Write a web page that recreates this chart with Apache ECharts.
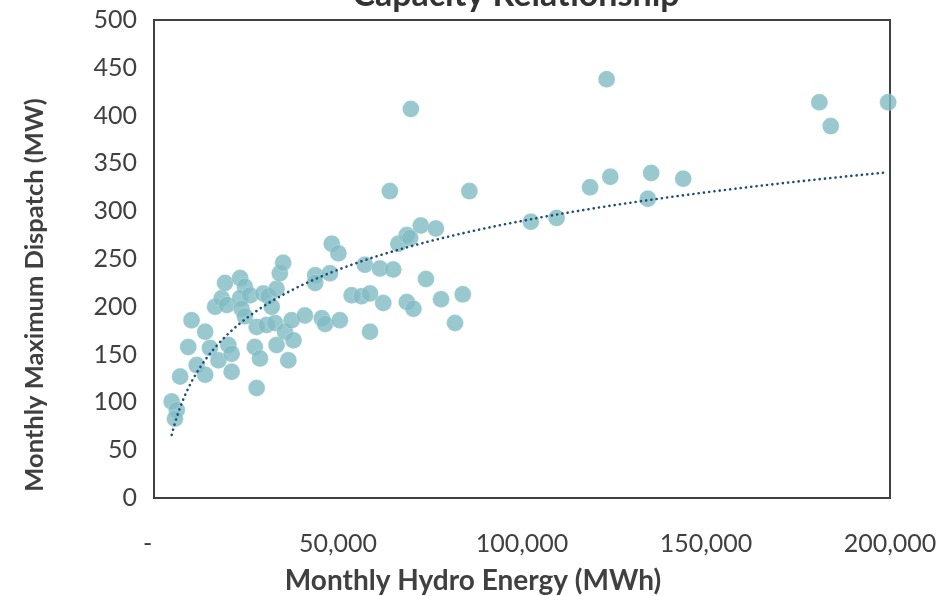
<!DOCTYPE html>
<html>
<head>
<meta charset="utf-8">
<script src="https://cdn.jsdelivr.net/npm/echarts@6/dist/echarts.min.js"></script>
<style>
  html, body { margin: 0; padding: 0; background: #ffffff; }
  #chart { width: 947px; height: 596px; }
</style>
</head>
<body>
<div id="chart"></div>
<script>
// Monthly hydro energy (MWh) and the month's maximum dispatch (MW)
const hydroEnergy = [
  4800, 6200, 5700, 7100, 9300, 10200, 11600, 13900, 13900, 15200,
  16600, 17500, 18400, 19300, 19800, 20200, 21100, 21100, 23400, 24700,
  23400, 26100, 23800, 24700, 27400, 27900, 27900, 28800, 29700, 30600,
  31100, 32000, 33300, 32900, 33300, 34200, 35100, 35600, 36500, 37400,
  37900, 41000, 43800, 43800, 45600, 46500, 47800, 48300, 50100, 50500,
  53700, 56400, 58700, 58700, 57300, 61400, 62300, 65000, 64100, 66400,
  68700, 69600, 68700, 70500, 72500, 76600, 73900, 78000, 81800, 83900,
  85700, 69800, 102400, 109400, 118500, 124000, 135100, 143800, 134200, 123000,
  180800, 183900, 199500
];
const maxDispatch = [
  101, 92, 83, 127, 158, 186, 139, 174, 129, 157,
  200, 144, 209, 225, 202, 160, 151, 132, 230, 221,
  209, 212, 198, 190, 158, 179, 115, 146, 214, 181,
  211, 200, 219, 183, 160, 235, 246, 174, 144, 186,
  165, 191, 233, 225, 188, 182, 235, 266, 256, 186,
  212, 211, 214, 174, 244, 240, 204, 239, 321, 266,
  275, 272, 205, 198, 285, 282, 229, 208, 183, 213,
  321, 407, 289, 293, 325, 336, 340, 334, 313, 438,
  414, 389, 414
];

// Axis ticks
const xTicks = [0, 50000, 100000, 150000, 200000];
const yTicks = [0, 50, 100, 150, 200, 250, 300, 350, 400, 450, 500];

const chartTitle = 'Capacity Relationship';
const xTitle = 'Monthly Hydro Energy (MWh)';
const yTitle = 'Monthly Maximum Dispatch (MW)';

// Logarithmic least-squares trend: y = a * ln(x) + b
function logFit(xs, ys) {
  const n = xs.length;
  let sx = 0, sy = 0, sxx = 0, sxy = 0;
  for (let i = 0; i < n; i++) {
    const lx = Math.log(xs[i]);
    sx += lx; sy += ys[i]; sxx += lx * lx; sxy += lx * ys[i];
  }
  const a = (n * sxy - sx * sy) / (n * sxx - sx * sx);
  const b = (sy - a * sx) / n;
  return { a, b };
}
const fit = logFit(hydroEnergy, maxDispatch);
const xMin = Math.min(...hydroEnergy);
const xMax = Math.max(...hydroEnergy);
const trend = [];
const steps = 200;
for (let i = 0; i <= steps; i++) {
  const x = xMin + (xMax - xMin) * i / steps;
  trend.push([x, fit.a * Math.log(x) + fit.b]);
}

const points = hydroEnergy.map((x, i) => [x, maxDispatch[i]]);

const fontFamily = 'Lato, "Open Sans", sans-serif';
const labelColor = '#404040';

const chart = echarts.init(document.getElementById('chart'), null, { renderer: 'canvas' });
chart.setOption({
  animation: false,
  backgroundColor: '#ffffff',
  grid: {
    left: 154, right: 57, top: 20, bottom: 98,
    show: true, borderColor: '#404040', borderWidth: 2,
    backgroundColor: 'transparent'
  },
  xAxis: {
    type: 'value',
    min: xTicks[0], max: xTicks[xTicks.length - 1],
    interval: xTicks[1] - xTicks[0],
    axisLine: { show: false },
    axisTick: { show: false },
    splitLine: { show: false },
    axisLabel: {
      margin: 33,
      color: labelColor,
      fontFamily: fontFamily,
      fontSize: 25,
      formatter: v => v === 0 ? '-  ' : v.toLocaleString('en-US')
    }
  },
  yAxis: {
    type: 'value',
    min: yTicks[0], max: yTicks[yTicks.length - 1],
    interval: yTicks[1] - yTicks[0],
    axisLine: { show: false },
    axisTick: { show: false },
    splitLine: { show: false },
    axisLabel: {
      margin: 17,
      color: labelColor,
      fontFamily: fontFamily,
      fontSize: 25
    }
  },
  series: [
    {
      type: 'scatter',
      data: points,
      symbol: 'circle',
      symbolSize: 17,
      itemStyle: { color: '#7fbbc3', borderColor: 'rgba(255,255,255,0.5)', borderWidth: 0.6 }
    },
    {
      type: 'line',
      data: trend,
      showSymbol: false,
      smooth: false,
      lineStyle: { color: '#1f4e79', width: 2.6, type: [0.1, 5.2], cap: 'round' }
    }
  ],
  graphic: [
    {
      type: 'text',
      x: 516, y: 12,
      style: {
        text: chartTitle,
        fill: '#333333',
        font: 'bold 34px ' + fontFamily,
        align: 'center',
        verticalAlign: 'bottom'
      }
    },
    {
      type: 'text',
      x: 473, y: 581,
      style: {
        text: xTitle,
        fill: '#404040',
        font: 'bold 28px ' + fontFamily,
        align: 'center',
        verticalAlign: 'middle'
      }
    },
    {
      type: 'text',
      x: 35, y: 295,
      rotation: Math.PI / 2,
      style: {
        text: yTitle,
        fill: '#404040',
        font: 'bold 25.5px ' + fontFamily,
        align: 'center',
        verticalAlign: 'middle'
      }
    }
  ]
});
</script>
</body>
</html>
